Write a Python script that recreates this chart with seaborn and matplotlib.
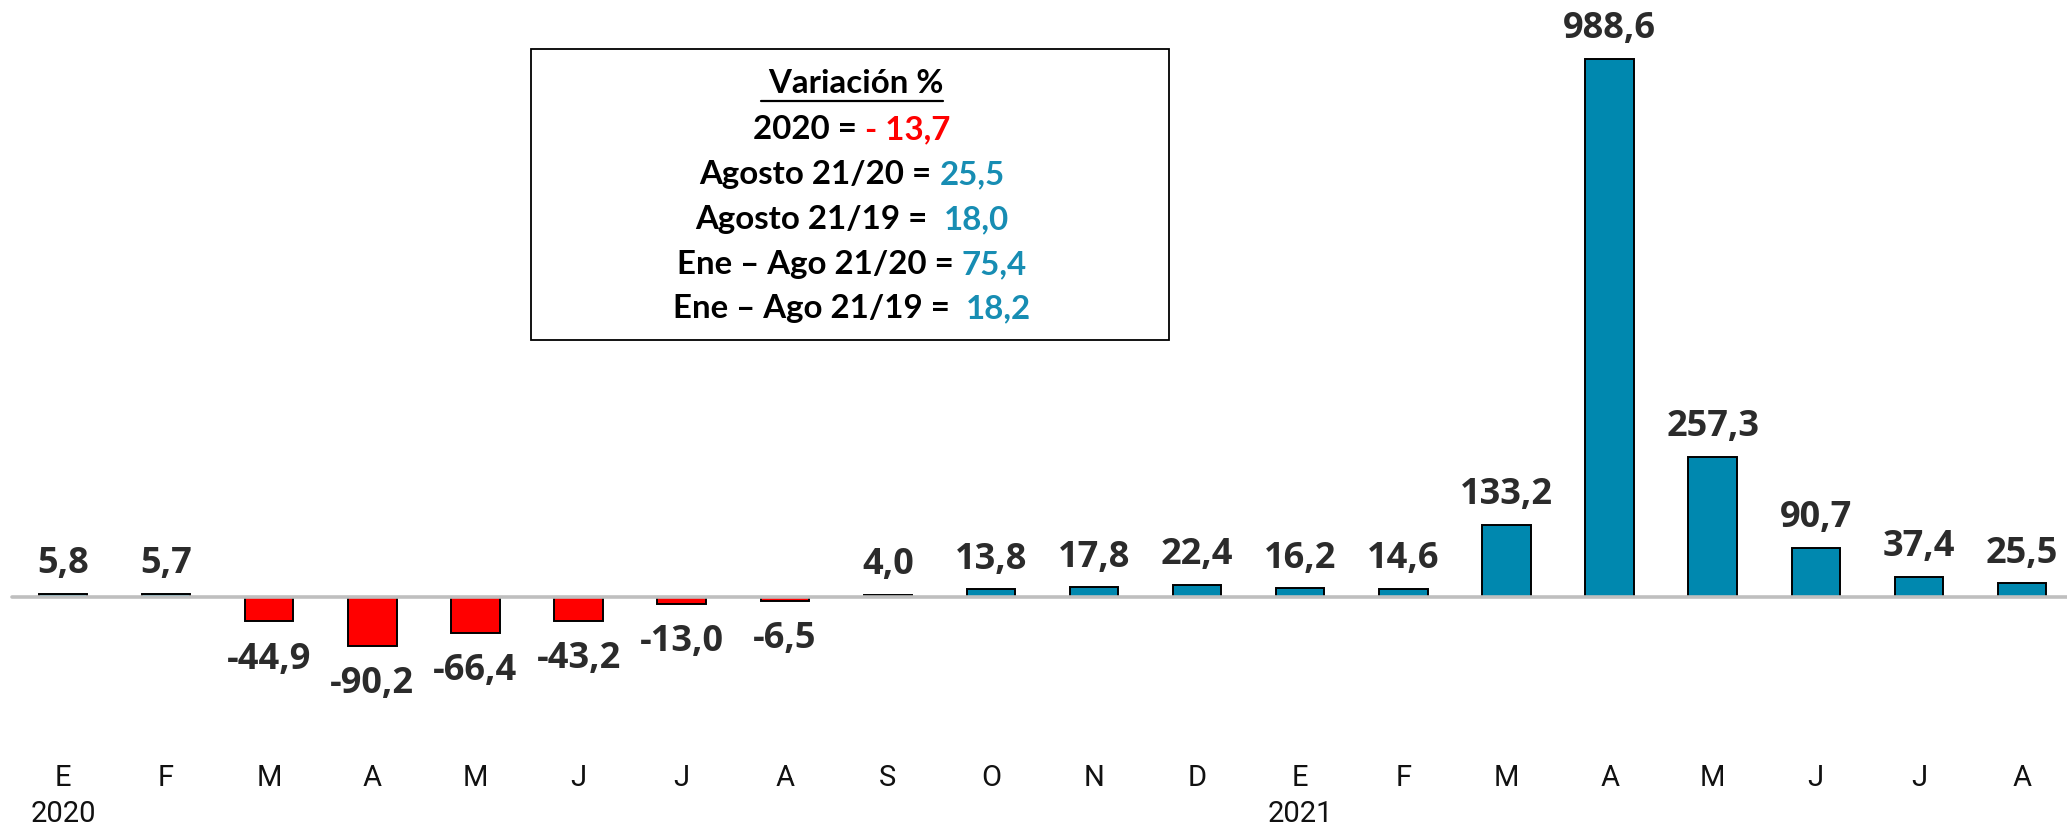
import matplotlib
matplotlib.use("Agg")
import matplotlib.pyplot as plt
import seaborn as sns
import pandas as pd
from matplotlib.patches import Rectangle
from matplotlib.lines import Line2D

# ---- data ----
periods = ["2020-01", "2020-02", "2020-03", "2020-04", "2020-05", "2020-06", "2020-07",
           "2020-08", "2020-09", "2020-10", "2020-11", "2020-12", "2021-01", "2021-02",
           "2021-03", "2021-04", "2021-05", "2021-06", "2021-07", "2021-08"]
tick_labels = ["E\n2020", "F", "M", "A", "M", "J", "J", "A", "S", "O", "N", "D",
               "E\n2021", "F", "M", "A", "M", "J", "J", "A"]
values = [5.8, 5.7, -44.9, -90.2, -66.4, -43.2, -13.0, -6.5, 4.0, 13.8, 17.8, 22.4,
          16.2, 14.6, 133.2, 988.6, 257.3, 90.7, 37.4, 25.5]

box_title = " Variación %"
box_lines = [
    [("2020 =", "black"), ("- 13,7", "red")],
    [("Agosto 21/20 =", "black"), ("25,5", "blue")],
    [("Agosto 21/19 =", "black"), (" 18,0", "blue")],
    [("Ene – Ago 21/20 =", "black"), ("75,4", "blue")],
    [("Ene – Ago 21/19 =", "black"), (" 18,2", "blue")],
]

BLUE = "#0088AF"
RED = "#FF0000"
TXT_BLUE = "#178DB3"

df = pd.DataFrame({"periodo": periods, "valor": values})
df["signo"] = ["neg" if v < 0 else "pos" for v in values]

sns.set_style("white")
W, H = 2067, 826
fig = plt.figure(figsize=(W / 100, H / 100), dpi=100)

ax_bottom_px = 750  # from top
base_px = 597
scale = 0.5442  # px per unit
ax = fig.add_axes([0, (H - ax_bottom_px) / H, 1, ax_bottom_px / H])

sns.barplot(data=df, x="periodo", y="valor", hue="signo", order=periods,
            palette={"pos": BLUE, "neg": RED}, dodge=False, width=0.47,
            saturation=1, edgecolor="black", linewidth=1.4, legend=False,
            ax=ax, zorder=2)

ax.set_xlim(-63 / 103.1, 19 + 45 / 103.1)
ax.set_ylim(-(ax_bottom_px - base_px) / scale, base_px / scale)
ax.axhline(0, xmin=12 / W, xmax=1, color="#BFBFBF", lw=2.6, zorder=3)

for s in ax.spines.values():
    s.set_visible(False)
ax.set_yticks([])
ax.set_xlabel("")
ax.set_ylabel("")
ax.set_xticks(range(len(periods)))
ax.set_xticklabels(tick_labels, fontfamily="Roboto", fontsize=21, color="#111111",
                   linespacing=1.38)
ax.tick_params(axis="x", length=0, pad=10)

for i, v in enumerate(values):
    lab = f"{v:.1f}".replace(".", ",")
    off = 14.8 if v >= 0 else -34
    ax.annotate(lab, (i, v), xytext=(0, off), textcoords="offset points",
                ha="center", va="baseline", fontsize=26, fontweight="bold",
                fontfamily="Open Sans", color="#2B2B2B", zorder=4)

# ---- annotation box ----
bx0, bx1, by0, by1 = 531, 1169, 49, 340
fig.patches.append(Rectangle((bx0 / W, 1 - by1 / H), (bx1 - bx0) / W, (by1 - by0) / H,
                             transform=fig.transFigure, fill=False, edgecolor="black",
                             linewidth=1.3, zorder=5))
cx = 852
fkw = dict(fontsize=23.8, fontweight="bold", fontfamily="Lato")
renderer = fig.canvas.get_renderer()

t = fig.text(cx / W, 1 - 93 / H, box_title, ha="center", va="baseline", color="black", **fkw)
bb = t.get_window_extent(renderer)
fig.lines.append(Line2D([bb.x0 / W, bb.x1 / W], [1 - 101 / H, 1 - 101 / H],
                        transform=fig.transFigure, color="black", lw=1.6))

def text_w(s):
    tt = fig.text(0, 0, s, **fkw)
    w = tt.get_window_extent(renderer).width
    tt.remove()
    return w

space_w = text_w("a a") - text_w("aa")
color_map = {"black": "black", "red": RED, "blue": TXT_BLUE}
baselines = [139, 184, 229, 274, 318]
for parts, yb in zip(box_lines, baselines):
    widths = [text_w(p[0].strip()) for p in parts]
    gaps = [space_w * (1 + len(p[0]) - len(p[0].lstrip())) for p in parts[1:]]
    total = sum(widths) + sum(gaps)
    x = cx - total / 2
    for k, (s, c) in enumerate(parts):
        if k > 0:
            x += gaps[k - 1]
        fig.text(x / W, 1 - yb / H, s.strip(), ha="left", va="baseline",
                 color=color_map[c], **fkw)
        x += widths[k]

fig.savefig("out.png", dpi=100)
